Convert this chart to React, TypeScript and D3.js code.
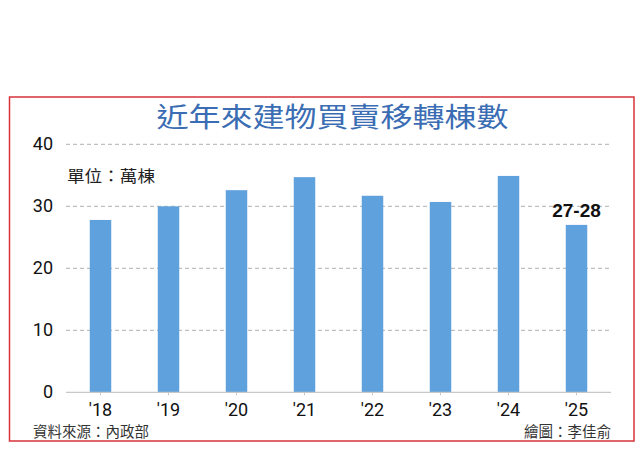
import * as d3 from "d3";

const years = ["'18", "'19", "'20", "'21", "'22", "'23", "'24", "'25"];
const values = [27.8, 30.0, 32.6, 34.7, 31.7, 30.7, 34.9, 27.0];
const yTicks = [0, 10, 20, 30, 40];
const lastLabel = "27-28";

const W = 640;
const H = 460;
const CJK = "'Noto Sans CJK TC', 'Noto Sans', sans-serif";
const NUM = "Roboto, 'Liberation Sans', sans-serif";

export default function App() {
  const x = d3
    .scaleBand<string>()
    .domain(years)
    .range([66.5, 610.5])
    .paddingInner(0.684)
    .paddingOuter(0.342);
  const y = d3.scaleLinear().domain([0, 40]).range([392.3, 144.3]);

  const last = years[years.length - 1];

  return (
    <svg
      width={W}
      height={H}
      style={{ position: "absolute", left: 0, top: 0, background: "#fff" }}
    >
      <rect x={0} y={0} width={W} height={H} fill="#fff" />
      <rect
        x={9.5}
        y={97}
        width={624.5}
        height={344}
        fill="none"
        stroke="#d8323a"
        strokeWidth={1.5}
      />

      {/* title */}
      <text
        x={332.5}
        y={127}
        textAnchor="middle"
        fontFamily={CJK}
        fontSize={27}
        fontWeight={400}
        fill="#3a6db3"
        textLength={352}
        lengthAdjust="spacingAndGlyphs"
      >
        近年來建物買賣移轉棟數
      </text>

      {/* grid */}
      {yTicks.filter((t) => t > 0).map((t) => (
        <line
          key={t}
          x1={66}
          x2={611}
          y1={y(t)}
          y2={y(t)}
          stroke="#b0b0b0"
          strokeWidth={1}
          strokeDasharray="4 3"
        />
      ))}
      {yTicks.map((t) => (
        <text
          key={t}
          x={53}
          y={y(t) + 6}
          textAnchor="end"
          fontFamily={NUM}
          fontSize={18}
          fill="#111"
        >
          {t}
        </text>
      ))}

      <text
        x={67}
        y={182}
        fontFamily={CJK}
        fontSize={16}
        fill="#222"
        textLength={88}
        lengthAdjust="spacingAndGlyphs"
      >
        單位：萬棟
      </text>

      {/* bars */}
      {years.map((d, i) => (
        <rect
          key={d}
          x={x(d)}
          y={y(values[i])}
          width={x.bandwidth()}
          height={y(0) - y(values[i])}
          fill="#5ea1dc"
        />
      ))}

      {/* axis */}
      <line x1={66} x2={611} y1={y(0)} y2={y(0)} stroke="#c8c8c8" strokeWidth={1.2} />
      {years.map((d) => (
        <g key={d} transform={`translate(${(x(d) ?? 0) + x.bandwidth() / 2},0)`}>
          <line y1={y(0)} y2={y(0) + 3} stroke="#c8c8c8" />
          <text y={416} textAnchor="middle" fontFamily={NUM} fontSize={18} fill="#111">
            {d}
          </text>
        </g>
      ))}

      <text
        x={(x(last) ?? 0) + x.bandwidth() / 2}
        y={217}
        textAnchor="middle"
        fontFamily="'Liberation Sans', Arial, sans-serif"
        fontSize={19}
        fontWeight="bold"
        fill="#111"
      >
        {lastLabel}
      </text>

      {/* footer */}
      <text x={33} y={437} fontFamily={CJK} fontSize={14.5} fill="#333">
        資料來源：內政部
      </text>
      <text x={611} y={437} textAnchor="end" fontFamily={CJK} fontSize={14.5} fill="#333">
        繪圖：李佳俞
      </text>
    </svg>
  );
}
